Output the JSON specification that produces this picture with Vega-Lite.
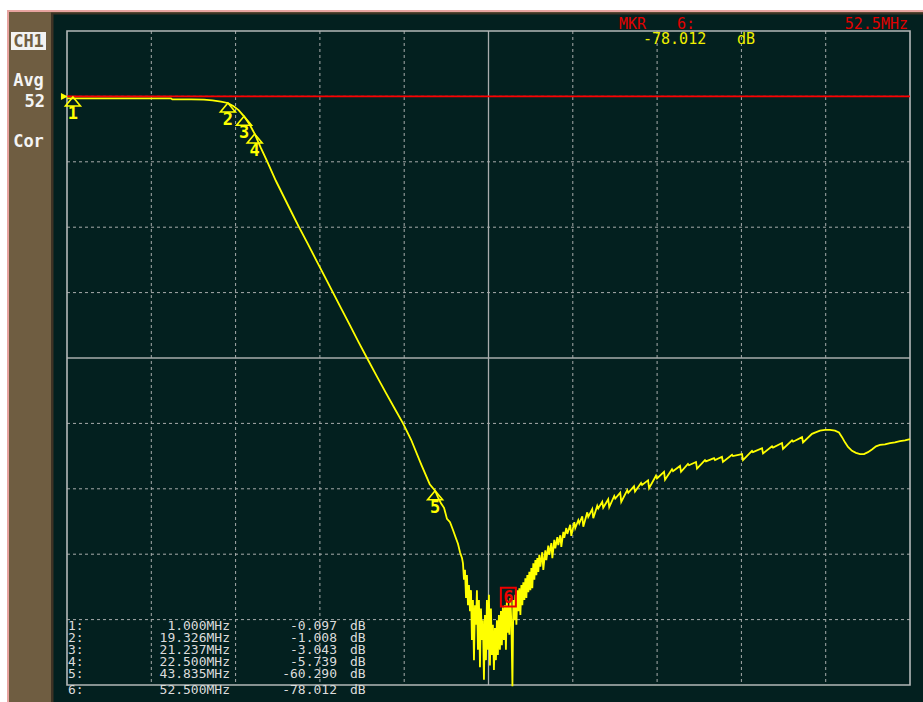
{
"$schema": "https://vega.github.io/schema/vega-lite/v6.json",
"width": 923, "height": 702,
"autosize": {"type": "none"},
"padding": 0,
"background": "#ffffff",
"config": {"view": {"stroke": null}},
"data": {"values": [{}]},
"datasets": {
"trace": [
{"f":0.3,"db":-0.3},{"f":1.0,"db":-0.3},{"f":5.0,"db":-0.3},{"f":10.0,"db":-0.3},{"f":12.6,"db":-0.3},{"f":12.75,"db":-0.45},{"f":15.0,"db":-0.45},{"f":16.5,"db":-0.5},{"f":17.5,"db":-0.6},{"f":18.5,"db":-0.8},{"f":19.326,"db":-1.008},{"f":20.0,"db":-1.5},{"f":20.6,"db":-2.1},{"f":21.237,"db":-3.043},{"f":21.9,"db":-4.3},{"f":22.5,"db":-5.739},{"f":23.2,"db":-7.8},{"f":24.0,"db":-10.0},{"f":25.0,"db":-12.9},{"f":26.0,"db":-15.5},{"f":27.0,"db":-18.1},{"f":27.74,"db":-20.0},{"f":28.8,"db":-22.6},{"f":29.8,"db":-25.1},{"f":30.8,"db":-27.6},{"f":31.76,"db":-30.0},{"f":32.8,"db":-32.6},{"f":33.8,"db":-35.1},{"f":34.8,"db":-37.6},{"f":35.78,"db":-40.0},{"f":36.9,"db":-42.7},{"f":38.0,"db":-45.3},{"f":39.0,"db":-47.6},{"f":40.04,"db":-50.0},{"f":41.0,"db":-52.5},{"f":42.2,"db":-56.3},{"f":43.2,"db":-59.3},{"f":43.835,"db":-60.29},{"f":44.18,"db":-61.3},{"f":44.53,"db":-62.2},{"f":44.89,"db":-62.9},{"f":45.24,"db":-64.6},{"f":45.6,"db":-65.1},{"f":45.95,"db":-66.3},{"f":46.31,"db":-67.6},{"f":46.54,"db":-68.4},{"f":46.78,"db":-69.7},{"f":47.02,"db":-70.6},
{"f":47.13,"db":-71.4},{"f":47.25,"db":-73.9},{"f":47.37,"db":-72.4},{"f":47.49,"db":-76.7},{"f":47.6,"db":-73.2},{"f":47.72,"db":-77.8},{"f":47.84,"db":-74.7},{"f":47.96,"db":-78.7},{"f":48.08,"db":-75.5},{"f":48.19,"db":-83.1},{"f":48.31,"db":-77.0},{"f":48.43,"db":-86.2},{"f":48.55,"db":-77.8},{"f":48.67,"db":-80.8},{"f":48.78,"db":-75.5},{"f":48.9,"db":-84.6},{"f":49.02,"db":-77.0},{"f":49.14,"db":-87.3},{"f":49.26,"db":-78.3},{"f":49.37,"db":-83.1},{"f":49.49,"db":-80.1},{"f":49.61,"db":-89.2},{"f":49.73,"db":-79.3},{"f":49.85,"db":-86.2},{"f":49.96,"db":-77.0},{"f":50.08,"db":-84.6},{"f":50.2,"db":-76.2},{"f":50.32,"db":-87.0},{"f":50.44,"db":-78.3},{"f":50.55,"db":-85.4},{"f":50.67,"db":-80.8},{"f":50.79,"db":-87.7},{"f":50.91,"db":-81.3},{"f":51.03,"db":-86.2},{"f":51.14,"db":-80.1},{"f":51.26,"db":-85.4},{"f":51.38,"db":-79.3},{"f":51.5,"db":-84.6},{"f":51.62,"db":-78.7},{"f":51.73,"db":-83.9},{"f":51.85,"db":-78.1},{"f":51.97,"db":-83.1},{"f":52.09,"db":-77.8},{"f":52.21,"db":-84.6},{"f":52.32,"db":-77.0},{"f":52.44,"db":-82.0},{"f":52.5,"db":-78.0},{"f":52.62,"db":-82.3},{"f":52.74,"db":-76.7},{"f":52.86,"db":-80.8},{"f":52.98,"db":-90.2},{"f":53.09,"db":-77.0},{"f":53.21,"db":-80.1},{"f":53.33,"db":-76.2},{"f":53.45,"db":-80.8},{"f":53.57,"db":-75.5},{"f":53.68,"db":-78.7},{"f":53.8,"db":-75.2},{"f":53.92,"db":-79.3},{"f":54.04,"db":-74.7},{"f":54.15,"db":-77.8},{"f":54.27,"db":-74.3},{"f":54.39,"db":-77.0},{"f":54.51,"db":-73.7},{"f":54.63,"db":-76.7},{"f":54.74,"db":-73.2},{"f":54.86,"db":-75.8},{"f":54.98,"db":-72.7},{"f":55.1,"db":-75.5},{"f":55.22,"db":-72.1},{"f":55.33,"db":-75.2},{"f":55.45,"db":-71.4},{"f":55.57,"db":-73.9},{"f":55.69,"db":-70.9},{"f":55.81,"db":-73.2},{"f":55.92,"db":-70.6},{"f":56.04,"db":-72.7},{"f":56.16,"db":-70.1},{"f":56.28,"db":-71.9},{"f":56.51,"db":-69.7},{"f":56.63,"db":-72.4},{"f":56.87,"db":-69.4},{"f":56.99,"db":-70.9},{"f":57.22,"db":-68.7},{"f":57.34,"db":-70.1},{"f":57.58,"db":-68.3},{"f":57.7,"db":-70.6},{"f":57.93,"db":-67.8},{"f":58.05,"db":-69.1},{"f":58.29,"db":-67.4},{"f":58.4,"db":-68.6},{"f":58.64,"db":-67.1},{"f":58.76,"db":-68.9},{"f":59.0,"db":-66.6},{"f":59.11,"db":-67.5},{"f":59.35,"db":-66.0},{"f":59.47,"db":-66.9},{"f":59.82,"db":-65.5},{"f":59.94,"db":-67.2},{"f":60.3,"db":-65.1},{"f":60.41,"db":-66.0},{"f":60.77,"db":-64.8},{"f":60.89,"db":-65.3},{"f":61.24,"db":-64.2},{"f":61.36,"db":-65.8},{"f":61.83,"db":-63.6},{"f":61.95,"db":-64.3},{"f":62.42,"db":-63.1},{"f":62.54,"db":-64.5},{"f":63.01,"db":-62.6},{"f":63.13,"db":-63.0},{"f":63.6,"db":-62.0},{"f":63.72,"db":-62.9},{"f":64.31,"db":-61.6},{"f":64.43,"db":-62.8},{"f":65.02,"db":-61.1},{"f":65.14,"db":-61.5},{"f":65.73,"db":-60.6},{"f":65.85,"db":-62.0},{"f":66.56,"db":-60.2},{"f":66.68,"db":-60.6},{"f":67.36,"db":-59.6},{"f":67.48,"db":-60.4},{"f":68.19,"db":-59.1},{"f":68.31,"db":-59.4},{"f":69.02,"db":-58.7},{"f":69.14,"db":-59.9},{"f":69.96,"db":-58.0},{"f":70.08,"db":-58.4},{"f":70.91,"db":-57.4},{"f":71.03,"db":-58.6},{"f":71.85,"db":-57.0},{"f":71.97,"db":-57.3},{"f":72.8,"db":-56.5},{"f":72.92,"db":-57.4},{"f":73.74,"db":-56.2},{"f":73.86,"db":-56.4},{"f":74.69,"db":-55.9},{"f":74.81,"db":-56.9},{"f":75.75,"db":-55.6},{"f":75.87,"db":-55.8},{"f":76.82,"db":-55.3},{"f":76.94,"db":-55.6},{"f":77.76,"db":-55.1},{"f":77.88,"db":-55.9},{"f":78.95,"db":-54.8},{"f":79.06,"db":-55.0},{"f":80.13,"db":-54.7},{"f":80.25,"db":-55.6},{"f":81.31,"db":-54.2},{"f":81.43,"db":-54.4},{"f":82.5,"db":-53.8},{"f":82.62,"db":-54.6},{"f":83.68,"db":-53.5},{"f":83.8,"db":-53.7},{"f":84.86,"db":-53.0},{"f":84.98,"db":-53.9},{"f":86.05,"db":-52.6},{"f":86.17,"db":-52.8},{"f":87.23,"db":-52.1},{"f":87.35,"db":-52.9},{"f":88.41,"db":-51.6},{"f":88.76,"db":-51.4},{"f":89.35,"db":-51.1},{"f":89.95,"db":-51.0},{"f":90.54,"db":-51.0},{"f":91.13,"db":-51.1},{"f":91.6,"db":-51.4},{"f":91.96,"db":-52.1},{"f":92.31,"db":-52.9},{"f":92.67,"db":-53.6},{"f":93.14,"db":-54.2},{"f":93.61,"db":-54.5},{"f":94.09,"db":-54.7},{"f":94.56,"db":-54.7},{"f":95.03,"db":-54.4},{"f":95.5,"db":-54.0},{"f":95.98,"db":-53.5},{"f":96.45,"db":-53.3},{"f":97.04,"db":-53.2},{"f":97.63,"db":-53.0},{"f":98.22,"db":-52.9},{"f":98.81,"db":-52.7},{"f":99.41,"db":-52.6},{"f":100.0,"db":-52.4}
],
"markers": [{"n":"1","f":1.0,"db":-0.097},{"n":"2","f":19.326,"db":-1.008},{"n":"3","f":21.237,"db":-3.043},{"n":"4","f":22.5,"db":-5.739},{"n":"5","f":43.835,"db":-60.29}],
"active": [{"n":"6","f":52.5,"db":-78.012}],
"vgrid": [{"f":10.27},{"f":20.24},{"f":30.21},{"f":40.18},{"f":60.12},{"f":70.09},{"f":80.06},{"f":90.03}],
"hgrid": [{"db":0},{"db":-10},{"db":-20},{"db":-30},{"db":-50},{"db":-60},{"db":-70},{"db":-80}]
},
"layer": [
{"mark": {"type": "rect", "fill": "#e8a4a0"},
 "encoding": {"x": {"datum": -6.796, "type": "quantitative", "scale": {"domain": [-7.624, 101.537], "nice": false, "zero": false}, "axis": null}, "x2": {"datum": 101.537},
  "y": {"datum": 13.21, "type": "quantitative", "scale": {"domain": [-92.6, 14.74], "nice": false, "zero": false}, "axis": null}, "y2": {"datum": -92.6}}},
{"mark": {"type": "rect", "fill": "#6f5d41"},
 "encoding": {"x": {"datum": -6.56, "type": "quantitative", "scale": {"domain": [-7.624, 101.537], "nice": false, "zero": false}, "axis": null}, "x2": {"datum": 101.537},
  "y": {"datum": 12.905, "type": "quantitative", "scale": {"domain": [-92.6, 14.74], "nice": false, "zero": false}, "axis": null}, "y2": {"datum": -92.6}}},
{"mark": {"type": "rect", "fill": "#3e3224"},
 "encoding": {"x": {"datum": -1.592, "type": "quantitative", "scale": {"domain": [-7.624, 101.537], "nice": false, "zero": false}, "axis": null}, "x2": {"datum": 101.537},
  "y": {"datum": 12.83, "type": "quantitative", "scale": {"domain": [-92.6, 14.74], "nice": false, "zero": false}, "axis": null}, "y2": {"datum": -92.6}}},
{"mark": {"type": "rect", "fill": "#03201f"},
 "encoding": {"x": {"datum": -1.297, "type": "quantitative", "scale": {"domain": [-7.624, 101.537], "nice": false, "zero": false}, "axis": null}, "x2": {"datum": 101.537},
  "y": {"datum": 12.525, "type": "quantitative", "scale": {"domain": [-92.6, 14.74], "nice": false, "zero": false}, "axis": null}, "y2": {"datum": -92.6}}},
{"mark": {"type": "rect", "fill": "#f2f2f2"},
 "encoding": {"x": {"datum": -6.323, "type": "quantitative", "scale": {"domain": [-7.624, 101.537], "nice": false, "zero": false}, "axis": null}, "x2": {"datum": -2.184},
  "y": {"datum": 9.847, "type": "quantitative", "scale": {"domain": [-92.6, 14.74], "nice": false, "zero": false}, "axis": null}, "y2": {"datum": 7.095}}},
{"data": {"name": "hgrid"},
 "mark": {"type": "rule", "color": "#a8acac", "strokeWidth": 1, "strokeDash": [3, 3]},
 "encoding": {"y": {"field": "db", "type": "quantitative", "scale": {"domain": [-92.6, 14.74], "nice": false, "zero": false}, "axis": null},
  "x": {"datum": 0.3, "type": "quantitative", "scale": {"domain": [-7.624, 101.537], "nice": false, "zero": false}, "axis": null}, "x2": {"datum": 100}}},
{"data": {"name": "vgrid"},
 "mark": {"type": "rule", "color": "#a8acac", "strokeWidth": 1, "strokeDash": [3, 3]},
 "encoding": {"x": {"field": "f", "type": "quantitative", "scale": {"domain": [-7.624, 101.537], "nice": false, "zero": false}, "axis": null},
  "y": {"datum": 10, "type": "quantitative", "scale": {"domain": [-92.6, 14.74], "nice": false, "zero": false}, "axis": null}, "y2": {"datum": -90}}},
{"mark": {"type": "rule", "color": "#a8acac", "strokeWidth": 1.3},
 "encoding": {"x": {"datum": 50.15, "type": "quantitative", "scale": {"domain": [-7.624, 101.537], "nice": false, "zero": false}, "axis": null},
  "y": {"datum": 10, "type": "quantitative", "scale": {"domain": [-92.6, 14.74], "nice": false, "zero": false}, "axis": null}, "y2": {"datum": -90}}},
{"mark": {"type": "rule", "color": "#a8acac", "strokeWidth": 1.3},
 "encoding": {"y": {"datum": -40, "type": "quantitative", "scale": {"domain": [-92.6, 14.74], "nice": false, "zero": false}, "axis": null},
  "x": {"datum": 0.3, "type": "quantitative", "scale": {"domain": [-7.624, 101.537], "nice": false, "zero": false}, "axis": null}, "x2": {"datum": 100}}},
{"mark": {"type": "rect", "fillOpacity": 0, "stroke": "#b4b8b8", "strokeWidth": 1.6},
 "encoding": {"x": {"datum": 0.3, "type": "quantitative", "scale": {"domain": [-7.624, 101.537], "nice": false, "zero": false}, "axis": null}, "x2": {"datum": 100},
  "y": {"datum": 10, "type": "quantitative", "scale": {"domain": [-92.6, 14.74], "nice": false, "zero": false}, "axis": null}, "y2": {"datum": -90}}},
{"data": {"name": "trace"},
 "mark": {"type": "line", "color": "#ffff00", "strokeWidth": 1.8},
 "encoding": {"x": {"field": "f", "type": "quantitative", "scale": {"domain": [-7.624, 101.537], "nice": false, "zero": false}, "axis": null},
  "y": {"field": "db", "type": "quantitative", "scale": {"domain": [-92.6, 14.74], "nice": false, "zero": false}, "axis": null}}},
{"mark": {"type": "rule", "color": "#ff0000", "strokeWidth": 1.6},
 "encoding": {"y": {"datum": 0, "type": "quantitative", "scale": {"domain": [-92.6, 14.74], "nice": false, "zero": false}, "axis": null},
  "x": {"datum": 0.3, "type": "quantitative", "scale": {"domain": [-7.624, 101.537], "nice": false, "zero": false}, "axis": null}, "x2": {"datum": 100}}},
{"mark": {"type": "point", "shape": "M-1,-1L1,0L-1,1Z", "size": 49, "filled": true, "color": "#ffff00", "opacity": 1},
 "encoding": {"x": {"datum": 0.0, "type": "quantitative", "scale": {"domain": [-7.624, 101.537], "nice": false, "zero": false}, "axis": null},
  "y": {"datum": 0, "type": "quantitative", "scale": {"domain": [-92.6, 14.74], "nice": false, "zero": false}, "axis": null}}},
{"data": {"name": "markers"},
 "mark": {"type": "point", "shape": "M0,0L1,1.2L-1,1.2Z", "size": 225, "filled": false, "color": "#ffff00", "strokeWidth": 1.6, "opacity": 1},
 "encoding": {"x": {"field": "f", "type": "quantitative", "scale": {"domain": [-7.624, 101.537], "nice": false, "zero": false}, "axis": null},
  "y": {"field": "db", "type": "quantitative", "scale": {"domain": [-92.6, 14.74], "nice": false, "zero": false}, "axis": null}}},
{"data": {"name": "markers"},
 "mark": {"type": "text", "dy": 22, "align": "center", "baseline": "alphabetic", "font": "DejaVu Sans Mono", "fontWeight": "bold", "fontSize": 17, "color": "#ffff00"},
 "encoding": {"text": {"field": "n"}, "x": {"field": "f", "type": "quantitative", "scale": {"domain": [-7.624, 101.537], "nice": false, "zero": false}, "axis": null},
  "y": {"field": "db", "type": "quantitative", "scale": {"domain": [-92.6, 14.74], "nice": false, "zero": false}, "axis": null}}},
{"data": {"name": "active"},
 "mark": {"type": "point", "shape": "M-1,-2.5L1,-2.5L1,0L-1,0Z", "size": 225, "filled": false, "color": "#ee0000", "strokeWidth": 2, "opacity": 1},
 "encoding": {"x": {"field": "f", "type": "quantitative", "scale": {"domain": [-7.624, 101.537], "nice": false, "zero": false}, "axis": null},
  "y": {"field": "db", "type": "quantitative", "scale": {"domain": [-92.6, 14.74], "nice": false, "zero": false}, "axis": null}}},
{"data": {"name": "active"},
 "mark": {"type": "text", "dy": -4, "align": "center", "baseline": "alphabetic", "font": "DejaVu Sans Mono", "fontWeight": "bold", "fontSize": 17, "color": "#ee0000"},
 "encoding": {"text": {"field": "n"}, "x": {"field": "f", "type": "quantitative", "scale": {"domain": [-7.624, 101.537], "nice": false, "zero": false}, "axis": null},
  "y": {"field": "db", "type": "quantitative", "scale": {"domain": [-92.6, 14.74], "nice": false, "zero": false}, "axis": null}}},
{"mark": {"type": "text", "align": "center", "baseline": "alphabetic", "font": "DejaVu Sans Mono", "fontWeight": "bold", "fontSize": 17, "color": "#6f5d41"},
 "encoding": {"text": {"value": "CH1"}, "x": {"datum": -4.253, "type": "quantitative", "scale": {"domain": [-7.624, 101.537], "nice": false, "zero": false}, "axis": null},
  "y": {"datum": 7.48, "type": "quantitative", "scale": {"domain": [-92.6, 14.74], "nice": false, "zero": false}, "axis": null}}},
{"mark": {"type": "text", "align": "center", "baseline": "alphabetic", "font": "DejaVu Sans Mono", "fontWeight": "bold", "fontSize": 17, "color": "#f4f4f4"},
 "encoding": {"text": {"value": "Avg"}, "x": {"datum": -4.253, "type": "quantitative", "scale": {"domain": [-7.624, 101.537], "nice": false, "zero": false}, "axis": null},
  "y": {"datum": 1.59, "type": "quantitative", "scale": {"domain": [-92.6, 14.74], "nice": false, "zero": false}, "axis": null}}},
{"mark": {"type": "text", "align": "right", "baseline": "alphabetic", "font": "DejaVu Sans Mono", "fontWeight": "bold", "fontSize": 17, "color": "#f4f4f4"},
 "encoding": {"text": {"value": "52"}, "x": {"datum": -2.302, "type": "quantitative", "scale": {"domain": [-7.624, 101.537], "nice": false, "zero": false}, "axis": null},
  "y": {"datum": -1.62, "type": "quantitative", "scale": {"domain": [-92.6, 14.74], "nice": false, "zero": false}, "axis": null}}},
{"mark": {"type": "text", "align": "center", "baseline": "alphabetic", "font": "DejaVu Sans Mono", "fontWeight": "bold", "fontSize": 17, "color": "#f4f4f4"},
 "encoding": {"text": {"value": "Cor"}, "x": {"datum": -4.253, "type": "quantitative", "scale": {"domain": [-7.624, 101.537], "nice": false, "zero": false}, "axis": null},
  "y": {"datum": -7.81, "type": "quantitative", "scale": {"domain": [-92.6, 14.74], "nice": false, "zero": false}, "axis": null}}},
{"mark": {"type": "text", "align": "left", "baseline": "alphabetic", "font": "DejaVu Sans Mono", "fontSize": 15, "color": "#e00000"},
 "encoding": {"text": {"value": "MKR"}, "x": {"datum": 65.58, "type": "quantitative", "scale": {"domain": [-7.624, 101.537], "nice": false, "zero": false}, "axis": null},
  "y": {"datum": 10.31, "type": "quantitative", "scale": {"domain": [-92.6, 14.74], "nice": false, "zero": false}, "axis": null}}},
{"mark": {"type": "text", "align": "left", "baseline": "alphabetic", "font": "DejaVu Sans Mono", "fontSize": 15, "color": "#e00000"},
 "encoding": {"text": {"value": "6:"}, "x": {"datum": 72.44, "type": "quantitative", "scale": {"domain": [-7.624, 101.537], "nice": false, "zero": false}, "axis": null},
  "y": {"datum": 10.31, "type": "quantitative", "scale": {"domain": [-92.6, 14.74], "nice": false, "zero": false}, "axis": null}}},
{"mark": {"type": "text", "align": "right", "baseline": "alphabetic", "font": "DejaVu Sans Mono", "fontSize": 15, "color": "#e00000"},
 "encoding": {"text": {"value": "52.5MHz"}, "x": {"datum": 99.76, "type": "quantitative", "scale": {"domain": [-7.624, 101.537], "nice": false, "zero": false}, "axis": null},
  "y": {"datum": 10.31, "type": "quantitative", "scale": {"domain": [-92.6, 14.74], "nice": false, "zero": false}, "axis": null}}},
{"mark": {"type": "text", "align": "left", "baseline": "alphabetic", "font": "DejaVu Sans Mono", "fontSize": 15, "color": "#f0f000"},
 "encoding": {"text": {"value": "-78.012"}, "x": {"datum": 68.42, "type": "quantitative", "scale": {"domain": [-7.624, 101.537], "nice": false, "zero": false}, "axis": null},
  "y": {"datum": 8.0, "type": "quantitative", "scale": {"domain": [-92.6, 14.74], "nice": false, "zero": false}, "axis": null}}},
{"mark": {"type": "text", "align": "left", "baseline": "alphabetic", "font": "DejaVu Sans Mono", "fontSize": 15, "color": "#f0f000"},
 "encoding": {"text": {"value": "dB"}, "x": {"datum": 79.54, "type": "quantitative", "scale": {"domain": [-7.624, 101.537], "nice": false, "zero": false}, "axis": null},
  "y": {"datum": 8.0, "type": "quantitative", "scale": {"domain": [-92.6, 14.74], "nice": false, "zero": false}, "axis": null}}},
{"mark": {"type": "text", "align": "left", "baseline": "alphabetic", "font": "DejaVu Sans Mono", "fontSize": 13, "lineHeight": 12, "color": "#dcdcdc"},
 "encoding": {"text": {"value": ["1:", "2:", "3:", "4:", "5:"]}, "x": {"datum": 0.418, "type": "quantitative", "scale": {"domain": [-7.624, 101.537], "nice": false, "zero": false}, "axis": null},
  "y": {"datum": -81.59, "type": "quantitative", "scale": {"domain": [-92.6, 14.74], "nice": false, "zero": false}, "axis": null}}},
{"mark": {"type": "text", "align": "right", "baseline": "alphabetic", "font": "DejaVu Sans Mono", "fontSize": 13, "lineHeight": 12, "color": "#dcdcdc"},
 "encoding": {"text": {"value": ["1.000MHz", "19.326MHz", "21.237MHz", "22.500MHz", "43.835MHz"]}, "x": {"datum": 19.578, "type": "quantitative", "scale": {"domain": [-7.624, 101.537], "nice": false, "zero": false}, "axis": null},
  "y": {"datum": -81.59, "type": "quantitative", "scale": {"domain": [-92.6, 14.74], "nice": false, "zero": false}, "axis": null}}},
{"mark": {"type": "text", "align": "right", "baseline": "alphabetic", "font": "DejaVu Sans Mono", "fontSize": 13, "lineHeight": 12, "color": "#dcdcdc"},
 "encoding": {"text": {"value": ["-0.097", "-1.008", "-3.043", "-5.739", "-60.290"]}, "x": {"datum": 32.232, "type": "quantitative", "scale": {"domain": [-7.624, 101.537], "nice": false, "zero": false}, "axis": null},
  "y": {"datum": -81.59, "type": "quantitative", "scale": {"domain": [-92.6, 14.74], "nice": false, "zero": false}, "axis": null}}},
{"mark": {"type": "text", "align": "left", "baseline": "alphabetic", "font": "DejaVu Sans Mono", "fontSize": 13, "lineHeight": 12, "color": "#dcdcdc"},
 "encoding": {"text": {"value": ["dB", "dB", "dB", "dB", "dB"]}, "x": {"datum": 33.77, "type": "quantitative", "scale": {"domain": [-7.624, 101.537], "nice": false, "zero": false}, "axis": null},
  "y": {"datum": -81.59, "type": "quantitative", "scale": {"domain": [-92.6, 14.74], "nice": false, "zero": false}, "axis": null}}},
{"mark": {"type": "text", "align": "left", "baseline": "alphabetic", "font": "DejaVu Sans Mono", "fontSize": 13, "color": "#dcdcdc"},
 "encoding": {"text": {"value": "6:"}, "x": {"datum": 0.418, "type": "quantitative", "scale": {"domain": [-7.624, 101.537], "nice": false, "zero": false}, "axis": null},
  "y": {"datum": -91.38, "type": "quantitative", "scale": {"domain": [-92.6, 14.74], "nice": false, "zero": false}, "axis": null}}},
{"mark": {"type": "text", "align": "right", "baseline": "alphabetic", "font": "DejaVu Sans Mono", "fontSize": 13, "color": "#dcdcdc"},
 "encoding": {"text": {"value": "52.500MHz"}, "x": {"datum": 19.578, "type": "quantitative", "scale": {"domain": [-7.624, 101.537], "nice": false, "zero": false}, "axis": null},
  "y": {"datum": -91.38, "type": "quantitative", "scale": {"domain": [-92.6, 14.74], "nice": false, "zero": false}, "axis": null}}},
{"mark": {"type": "text", "align": "right", "baseline": "alphabetic", "font": "DejaVu Sans Mono", "fontSize": 13, "color": "#dcdcdc"},
 "encoding": {"text": {"value": "-78.012"}, "x": {"datum": 32.232, "type": "quantitative", "scale": {"domain": [-7.624, 101.537], "nice": false, "zero": false}, "axis": null},
  "y": {"datum": -91.38, "type": "quantitative", "scale": {"domain": [-92.6, 14.74], "nice": false, "zero": false}, "axis": null}}},
{"mark": {"type": "text", "align": "left", "baseline": "alphabetic", "font": "DejaVu Sans Mono", "fontSize": 13, "color": "#dcdcdc"},
 "encoding": {"text": {"value": "dB"}, "x": {"datum": 33.77, "type": "quantitative", "scale": {"domain": [-7.624, 101.537], "nice": false, "zero": false}, "axis": null},
  "y": {"datum": -91.38, "type": "quantitative", "scale": {"domain": [-92.6, 14.74], "nice": false, "zero": false}, "axis": null}}}
]
}
